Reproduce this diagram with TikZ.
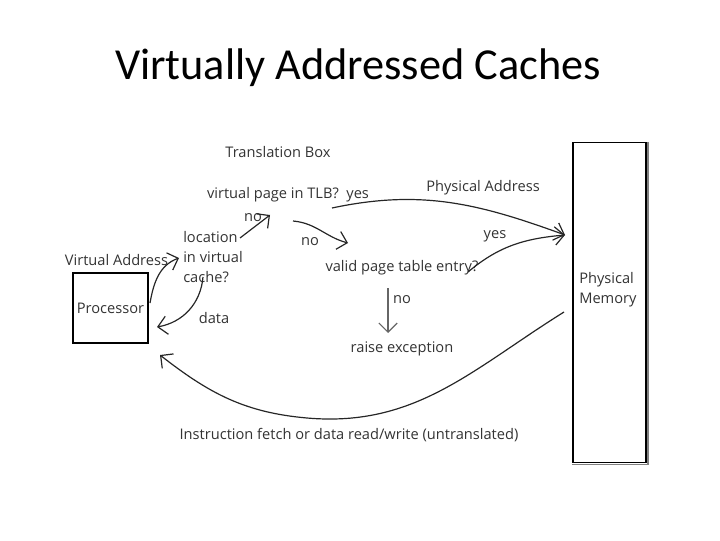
\documentclass[tikz,border=0pt]{standalone}
\usepackage{fontspec}
\setmainfont{Open Sans}
\newfontfamily\titlefont{Carlito}
\usepackage{tikz}
\usetikzlibrary{arrows.meta}
\definecolor{ink}{HTML}{333333}

\begin{document}
\begin{tikzpicture}[
  x=0.025cm, y=0.025cm,
  txt/.style={
    inner sep=0pt, text=ink,
    font=\fontsize{10.4}{14}\selectfont
  },
  box/.style={
    rectangle, draw=black, line width=0.8pt, inner sep=0pt
  },
  arr/.style={
    draw=black!85, line width=0.85pt,
    -{Straight Barb[length=6.5pt, width=13pt]}
  }
]
  \useasboundingbox (0,0) rectangle (720,540);
  \node[text=black, font=\titlefont\fontsize{31.5}{36}\selectfont] (title) at (358,472){Virtually Addressed Caches};
  % boxes
  \node[box, minimum width=1.875cm, minimum height=1.75cm] (proc) at (110.5,232){};
  \node[txt] at (proc){Processor};
  \node[box, minimum width=1.825cm, minimum height=8cm] (mem) at (609.5,237.5){};
  \draw[gray, line width=1.4pt] ([xshift=1pt]mem.north east)--([xshift=1pt,yshift=-1pt]mem.south east)--([yshift=-1pt]mem.south west);
  \node[txt, anchor=west, align=left] (memtxt) at (579,250){Physical\\Memory};
  % labels
  \node[txt] (tbox) at (278,388){Translation Box};
  \node[txt] (tlb) at (288,345){virtual page in TLB?\ \ yes};
  \node[txt] (paddr) at (483,352){Physical Address};
  \node[txt] (no1) at (253,322){no};
  \node[txt, anchor=west, align=left] (loc) at (183,283){location\\in virtual\\cache?};
  \node[txt] (vaddr) at (116.5,280){Virtual Address};
  \node[txt] (data) at (214,222){data};
  \node[txt] (no2) at (310,298){no};
  \node[txt] (valid) at (402,272){valid page table entry?};
  \node[txt] (yes2) at (495,304){yes};
  \node[txt] (no3) at (402,240){no};
  \node[txt] (exc) at (402,191){raise exception};
  \node[txt] (instr) at (349,105){Instruction fetch or data read/write (untranslated)};
  \coordinate (pa) at (565,305);
  \coordinate (pm) at (564,228);
  % connectors
  \draw[arr] ([shift={(39.5,5)}]proc.center) to[out=80, in=200] ([shift={(-4,-1)}]loc.west);
  \draw[arr] ([shift={(57,19)}]loc.west) -- ([shift={(17,3)}]no1.center);
  \draw[arr] ([shift={(20,-20)}]loc.west) to[out=-95, in=10] ([shift={(46.5,-19)}]proc.center);
  \draw[arr] ([shift={(5,-26)}]tlb.center) to[out=-5, in=165] ([shift={(38,-1)}]no2.center);
  \draw[arr] ([shift={(44,-13)}]tlb.center) to[out=12, in=160] (pa);
  \draw[arr] ([shift={(66,-4)}]valid.center) to[out=40, in=185] (pa);
  \draw[arr, draw=black!60] ([shift={(-14,12)}]no3.center) -- ([shift={(-14,16)}]exc.center);
  \draw[arr] (pm) to[out=212, in=-5] (307,122) to[out=175, in=-38] ([shift={(49.5,-47)}]proc.center);
\end{tikzpicture}
\end{document}
